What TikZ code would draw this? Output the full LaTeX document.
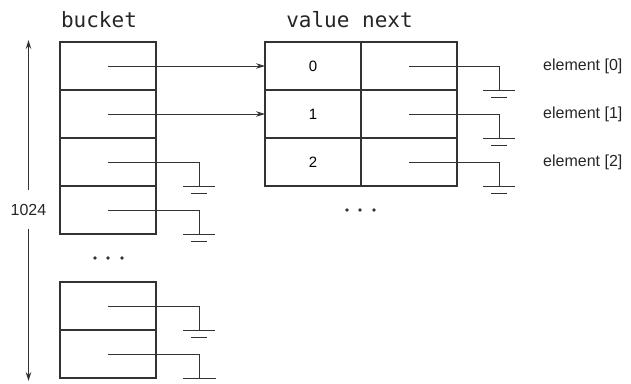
\documentclass[tikz,border=0pt]{standalone}
\usepackage{fontspec}
\setmainfont{Liberation Sans}
\newfontfamily\codefont{DejaVu Sans Mono}
\usetikzlibrary{arrows.meta}
\definecolor{ink}{HTML}{333333}
\begin{document}
\begin{tikzpicture}[x=1pt,y=-1pt,
  cell/.style={draw=ink,line width=1.1pt,minimum width=96pt,minimum height=48pt,inner sep=0pt,outer sep=0pt,font=\fontsize{15}{17}\selectfont},
  sep/.style={draw=ink,line width=1.7pt},
  wire/.style={draw=ink,line width=1pt},
  ptr/.style={wire,-{Stealth[length=9pt,width=5.5pt]}},
  lab/.style={font=\fontsize{16}{18}\selectfont,text=black!85,inner sep=0pt},
  hdr/.style={font=\codefont\fontsize{21}{24}\selectfont,text=black!85,inner sep=0pt,anchor=base},
  gnd/.pic={\draw[wire] (-16,0) -- (16,0); \draw[wire] (-8,7) -- (8,7);},
  dot/.style={circle,fill=ink,inner sep=0pt,minimum size=3.6pt}
]
\useasboundingbox (0,0) rectangle (631,383);
% headers
\node[hdr] (hb) at (99,27) {bucket};
\node[hdr] (hv) at (349.5,27) {value next};
% bucket cells
\node[cell] (b1) at (108,66) {};
\node[cell] (b2) at (108,114) {};
\node[cell] (b3) at (108,162) {};
\node[cell] (b4) at (108,210) {};
\node[cell] (c1) at (108,306) {};
\node[cell] (c2) at (108,354) {};
\draw[sep] (b1.south west) -- (b1.south east);
\draw[sep] (b2.south west) -- (b2.south east);
\draw[sep] (b3.south west) -- (b3.south east);
\draw[sep] (c1.south west) -- (c1.south east);
% value cells
\node[cell] (v0) at (313,66) {0};
\node[cell] (n0) at (409,66) {};
\node[cell] (v1) at (313,114) {1};
\node[cell] (n1) at (409,114) {};
\node[cell] (v2) at (313,162) {2};
\node[cell] (n2) at (409,162) {};
\draw[sep] (v0.south west) -- (n0.south east);
\draw[sep] (v1.south west) -- (n1.south east);
% pointers bucket -> elements
\draw[ptr] (b1.center) -- (v0.west);
\draw[ptr] (b2.center) -- (v1.west);
% ground wires
\coordinate (gb3) at (199,186);
\coordinate (gb4) at (199,234);
\coordinate (gc1) at (199,330);
\coordinate (gc2) at (199,378);
\coordinate (gn0) at (499,90);
\coordinate (gn1) at (499,138);
\coordinate (gn2) at (499,186);
\draw[wire] (b3.center) -| (gb3) pic {gnd};
\draw[wire] (b4.center) -| (gb4) pic {gnd};
\draw[wire] (c1.center) -| (gc1) pic {gnd};
\draw[wire] (c2.center) -| (gc2);
\draw[wire] (182.5,378) -- (215.5,378);
\draw[wire] (n0.center) -| (gn0) pic {gnd};
\draw[wire] (n1.center) -| (gn1) pic {gnd};
\draw[wire] (n2.center) -| (gn2) pic {gnd};
% element labels
\node[lab,anchor=west] (e0) at (543,66) {element [0]};
\node[lab,anchor=west] (e1) at (543,114) {element [1]};
\node[lab,anchor=west] (e2) at (543,162) {element [2]};
% size arrow
\node[lab,minimum height=39pt] (len) at (28.5,209.5) {1024};
\coordinate (top) at (28.5,40);
\coordinate (bot) at (28.5,381);
\draw[ptr] (len.north) -- (top);
\draw[ptr] (len.south) -- (bot);
% dots
\node[dot] (d1) at (95,258) {};
\node[dot] (d2) at (108,258) {};
\node[dot] (d3) at (122,258) {};
\node[dot] (d4) at (347,210) {};
\node[dot] (d5) at (360,210) {};
\node[dot] (d6) at (374,210) {};
\end{tikzpicture}
\end{document}
